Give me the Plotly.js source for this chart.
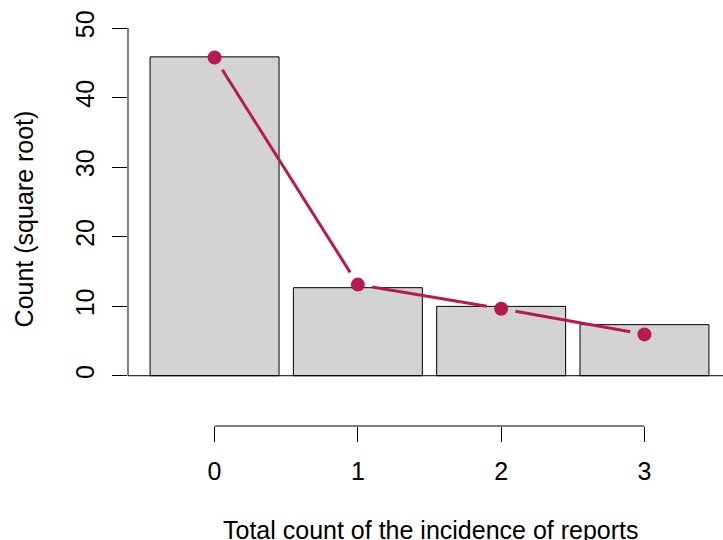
<!DOCTYPE html>
<html>
<head>
<meta charset="utf-8">
<script src="https://cdn.plot.ly/plotly-3.0.1.min.js"></script>
<style>html,body{margin:0;padding:0;background:#fff;}#chart{width:723px;height:540px;}</style>
</head>
<body>
<div id="chart"></div>
<script>
// Data (square-root scale)
var counts = [0, 1, 2, 3];
var observedSqrt = [45.85, 12.66, 9.97, 7.34];
var expectedSqrt = [45.75, 13.1, 9.64, 5.94];
var tickLabels = ['0', '1', '2', '3'];
var yTicks = [0, 10, 20, 30, 40, 50];
var xTitle = 'Total count of the incidence of reports';
var yTitle = 'Count (square root)';

var W = 723, H = 540;
var M = {l: 128, r: 0, t: 12, b: 114};
var xRange = [-0.604, 3.548];
var yRange = [-7.23, 52.3];
var pxX = (W - M.l - M.r) / (xRange[1] - xRange[0]);
var pxY = (H - M.t - M.b) / (yRange[1] - yRange[0]);
var col = '#B61A51';
var font = 'Liberation Sans, Arial, sans-serif';
var fs = 25;

// line segments with gaps around points (R type "b")
var gap = 14.5;
var lx = [], ly = [];
for (var i = 0; i < counts.length - 1; i++) {
  var dx = (counts[i+1] - counts[i]) * pxX;
  var dy = (expectedSqrt[i+1] - expectedSqrt[i]) * pxY;
  var L = Math.sqrt(dx*dx + dy*dy);
  var f = gap / L;
  if (f < 0.5) {
    lx.push(counts[i] + f * (counts[i+1] - counts[i]));
    ly.push(expectedSqrt[i] + f * (expectedSqrt[i+1] - expectedSqrt[i]));
    lx.push(counts[i+1] - f * (counts[i+1] - counts[i]));
    ly.push(expectedSqrt[i+1] - f * (expectedSqrt[i+1] - expectedSqrt[i]));
    lx.push(null); ly.push(null);
  }
}

var traces = [
  {type: 'bar', x: counts, y: observedSqrt, width: 0.9,
   marker: {color: '#D3D3D3', line: {color: '#000', width: 1}}, hoverinfo: 'skip'},
  {type: 'scatter', mode: 'lines', x: lx, y: ly, line: {color: col, width: 3}, connectgaps: false, hoverinfo: 'skip'},
  {type: 'scatter', mode: 'markers', x: counts, y: expectedSqrt, marker: {color: col, size: 14}, cliponaxis: false, hoverinfo: 'skip'}
];

var layout = {
  width: W, height: H,
  margin: M,
  showlegend: false,
  paper_bgcolor: '#fff', plot_bgcolor: '#fff',
  font: {family: font, size: fs, color: '#000'},
  xaxis: {
    range: xRange, showgrid: false, zeroline: false, showline: false,
    tickvals: counts, ticktext: tickLabels, ticks: 'outside', ticklen: 15, tickwidth: 1, tickcolor: '#000',
    tickfont: {size: fs}, ticklabelstandoff: 8,
    automargin: false
  },
  yaxis: {
    range: yRange, showgrid: false, zeroline: false, showline: false,
    tickvals: yTicks, ticks: 'outside', ticklen: 15, tickwidth: 1, tickcolor: '#000',
    tickangle: -90, tickfont: {size: fs}, ticklabelstandoff: 8,
    title: {text: yTitle, font: {size: fs}, standoff: 30},
    automargin: false
  },
  annotations: [
    {text: xTitle, xref: 'paper', yref: 'paper', x: 0.51, y: 0, xanchor: 'center', yanchor: 'middle',
     yshift: -104, showarrow: false, font: {size: fs, color: '#000'}}
  ],
  shapes: [
    {type: 'line', xref: 'paper', yref: 'y', x0: 0, x1: 0, y0: 0, y1: 50, line: {color: '#000', width: 1}},
    {type: 'line', xref: 'x', yref: 'paper', x0: 0, x1: 3, y0: 0, y1: 0, line: {color: '#000', width: 1}},
    {type: 'line', xref: 'paper', yref: 'y', x0: 0, x1: 1, y0: 0, y1: 0, line: {color: '#000', width: 1}, layer: 'above'}
  ]
};

Plotly.newPlot('chart', traces, layout, {displayModeBar: false, staticPlot: true});
</script>
</body>
</html>
